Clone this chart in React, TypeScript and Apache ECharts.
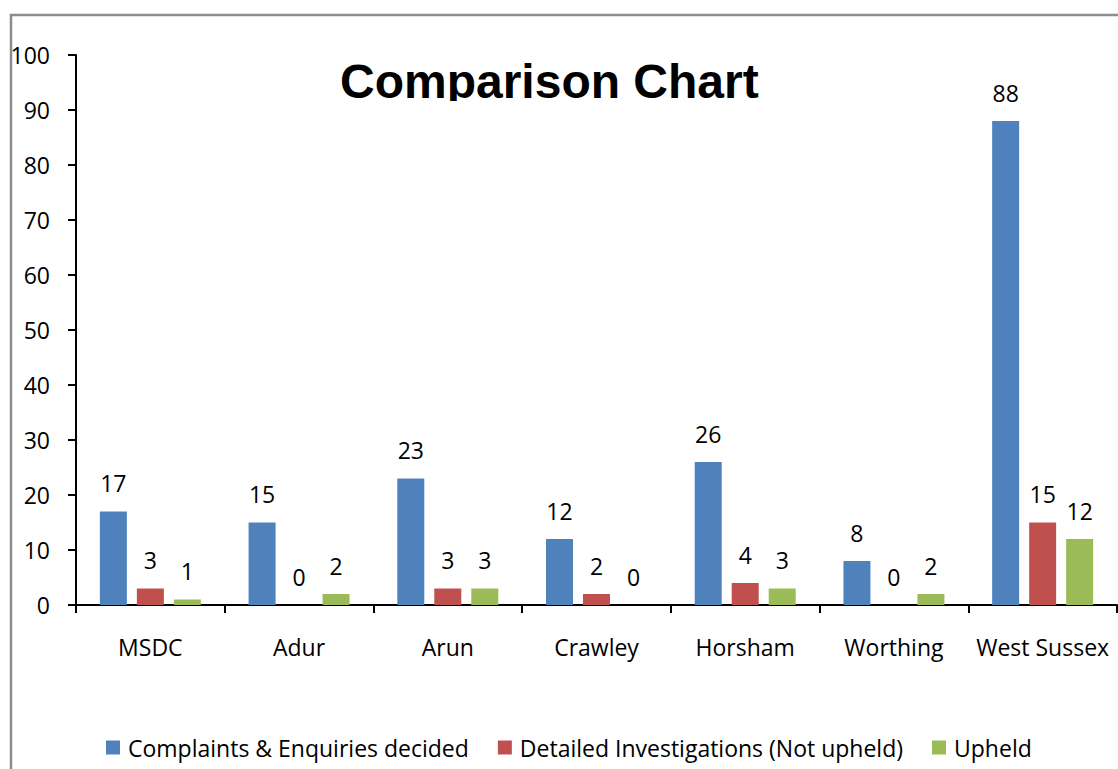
import React, { useEffect, useRef } from "react";
import * as echarts from "echarts";

const categories = ["MSDC", "Adur", "Arun", "Crawley", "Horsham", "Worthing", "West Sussex"];
const complaints = [17, 15, 23, 12, 26, 8, 88];
const detailed = [3, 0, 3, 2, 4, 0, 15];
const upheld = [1, 2, 3, 0, 3, 2, 12];
const seriesNames = [
  "Complaints & Enquiries decided",
  "Detailed Investigations (Not upheld)",
  "Upheld",
];
const colors = ["#4F81BD", "#C0504D", "#9BBB59"];
const titleText = "Comparison Chart";

const FONT = "'Open Sans', Lato, sans-serif";
const FS = 23;

export default function App() {
  const ref = useRef<HTMLDivElement>(null);
  useEffect(() => {
    if (!ref.current) return;
    const chart = echarts.init(ref.current, undefined, { renderer: "svg" });
    const label = {
      show: true,
      position: "top",
      distance: 17,
      color: "#000",
      fontSize: FS,
      fontFamily: FONT,
    };
    const mk = (name: string, data: number[], color: string) => ({
      name,
      type: "bar",
      data,
      barWidth: 27,
      barGap: "37%",
      itemStyle: { color },
      label,
    });
    chart.setOption({
      animation: false,
      backgroundColor: "#fff",
      textStyle: { fontFamily: FONT },
      grid: { left: 76, right: 1, top: 55, bottom: 164, containLabel: false },
      legend: {
        left: 106,
        top: 736,
        padding: 0,
        itemWidth: 14,
        itemHeight: 14,
        itemGap: 29,
        icon: "rect",
        textStyle: { fontSize: FS, color: "#000", fontFamily: FONT, padding: [0, 0, 0, 3] },
        data: seriesNames,
      },
      xAxis: {
        type: "category",
        data: categories,
        axisLine: { lineStyle: { color: "#000", width: 2 } },
        axisTick: { show: true, length: 8, lineStyle: { color: "#000", width: 2 } },
        axisLabel: { color: "#000", fontSize: FS, fontFamily: FONT, margin: 30, interval: 0 },
      },
      yAxis: {
        type: "value",
        min: 0,
        max: 100,
        interval: 10,
        splitLine: { show: false },
        axisLine: { show: true, lineStyle: { color: "#000", width: 2 } },
        axisTick: { show: true, length: 8, lineStyle: { color: "#000", width: 2 } },
        axisLabel: { color: "#000", fontSize: FS, fontFamily: FONT, margin: 26 },
      },
      series: [
        mk(seriesNames[0], complaints, colors[0]),
        mk(seriesNames[1], detailed, colors[1]),
        mk(seriesNames[2], upheld, colors[2]),
      ],
      graphic: [
        {
          type: "rect",
          silent: true,
          z: -10,
          shape: { x: 11, y: 15, width: 1300, height: 900 },
          style: { fill: "none", stroke: "#8c8c8c", lineWidth: 2.5 },
        },
        {
          type: "text",
          z: 100,
          x: 340,
          y: 57,
          style: {
            text: titleText,
            fill: "#000",
            font: "bold 48px 'Liberation Sans', Arial, sans-serif",
            verticalAlign: "top",
          },
        },
        {
          type: "rect",
          z: 101,
          silent: true,
          shape: { x: 330, y: 101, width: 440, height: 16 },
          style: { fill: "#fff" },
        },
      ],
    });
    return () => chart.dispose();
  }, []);
  return (
    <div
      ref={ref}
      style={{ position: "absolute", left: 0, top: 0, width: 1118, height: 769 }}
    />
  );
}
